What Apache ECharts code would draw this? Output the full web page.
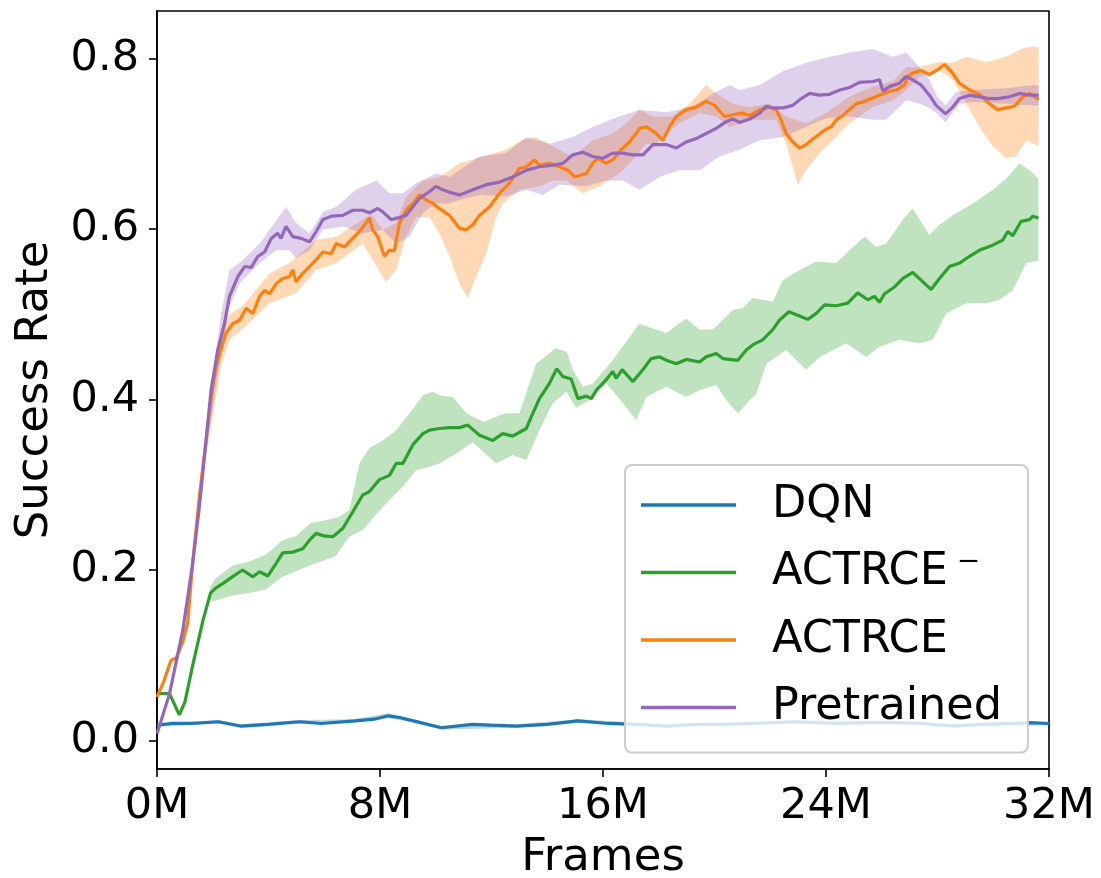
<!DOCTYPE html>
<html><head><meta charset="utf-8">
<script src="https://cdn.jsdelivr.net/npm/echarts@6/dist/echarts.min.js"></script>
<style>html,body{margin:0;padding:0;background:#fff}#c{width:1101px;height:878px}</style>
</head><body><div id="c"></div>
<script>
// ---------- data (x in millions of frames, y = success rate) ----------
const seriesNames = ['DQN', 'ACTRCE\u2009\u207B', 'ACTRCE', 'Pretrained'];
const seriesColors = ['#1f77b4', '#2ca02c', '#ff7f0e', '#9467bd'];
const xTickValues = [0, 8, 16, 24, 32];
const yTickValues = [0, 0.2, 0.4, 0.6, 0.8];

const dqnLine = [[0,0.018],[0.5,0.020],[1.2,0.020],[2.2,0.022],[3.0,0.017],[4.0,0.019],[5.1,0.022],[5.9,0.020],[7.1,0.023],[7.8,0.025],[8.3,0.029],[8.7,0.027],[9.2,0.023],[10.2,0.015],[11.3,0.019],[12.0,0.018],[12.9,0.017],[14.0,0.019],[15.1,0.023],[16.2,0.020],[17.2,0.019],[18.3,0.017],[19.3,0.019],[20.3,0.019],[21.5,0.020],[22.8,0.022],[24.4,0.020],[25.5,0.021],[26.5,0.021],[27.5,0.020],[28.6,0.017],[29.5,0.019],[30.6,0.020],[31.3,0.021],[32,0.020]];
const dqnUpper = [[0,0.020],[2.2,0.024],[3.0,0.019],[5.1,0.024],[7.1,0.025],[8.3,0.032],[9.2,0.025],[10.2,0.017],[12.9,0.019],[15.1,0.025],[18.3,0.019],[22.8,0.024],[26.5,0.023],[28.6,0.019],[32,0.022]];
const dqnLower = [[0,0.016],[2.2,0.020],[3.0,0.015],[5.1,0.020],[7.1,0.021],[8.3,0.026],[9.2,0.021],[10.2,0.013],[12.9,0.015],[15.1,0.021],[18.3,0.015],[22.8,0.020],[26.5,0.019],[28.6,0.015],[32,0.018]];

const greenLine = [[0,0.055],[0.45,0.055],[0.8,0.030],[1.0,0.045],[1.3,0.091],[1.65,0.141],[1.92,0.173],[2.12,0.179],[2.4,0.185],[2.7,0.192],[3.07,0.200],[3.44,0.192],[3.68,0.198],[3.98,0.193],[4.28,0.208],[4.51,0.220],[4.87,0.221],[5.23,0.225],[5.47,0.235],[5.71,0.243],[6.0,0.240],[6.31,0.239],[6.67,0.249],[7.02,0.268],[7.38,0.288],[7.62,0.292],[7.98,0.306],[8.34,0.311],[8.58,0.325],[8.82,0.325],[9.18,0.347],[9.54,0.360],[9.78,0.364],[10.13,0.366],[10.5,0.367],[10.85,0.367],[11.15,0.370],[11.57,0.358],[12.05,0.352],[12.4,0.360],[12.76,0.357],[13.25,0.366],[13.43,0.380],[13.72,0.401],[14.08,0.419],[14.34,0.436],[14.56,0.427],[14.86,0.424],[15.1,0.401],[15.4,0.404],[15.58,0.401],[15.76,0.411],[16.11,0.423],[16.35,0.433],[16.47,0.425],[16.69,0.435],[17.07,0.421],[17.43,0.435],[17.73,0.448],[18.03,0.450],[18.27,0.446],[18.63,0.442],[18.99,0.447],[19.46,0.444],[19.7,0.450],[20.06,0.454],[20.3,0.448],[20.84,0.446],[21.14,0.458],[21.37,0.464],[21.73,0.470],[22.09,0.482],[22.33,0.493],[22.67,0.503],[23.05,0.498],[23.35,0.494],[23.65,0.501],[23.95,0.511],[24.37,0.510],[24.78,0.513],[25.14,0.525],[25.5,0.517],[25.74,0.521],[25.92,0.514],[26.1,0.524],[26.46,0.532],[26.76,0.542],[27.11,0.549],[27.41,0.540],[27.77,0.529],[28.07,0.542],[28.43,0.556],[28.79,0.560],[29.15,0.568],[29.5,0.575],[29.98,0.581],[30.34,0.587],[30.52,0.597],[30.7,0.592],[31.0,0.609],[31.3,0.611],[31.42,0.615],[31.62,0.613]];
const greenUpper = [[1.9,0.18],[2.1,0.19],[2.7,0.205],[3.3,0.21],[3.9,0.218],[4.5,0.235],[5.0,0.24],[5.5,0.255],[6.0,0.258],[6.5,0.262],[6.9,0.27],[7.26,0.325],[7.62,0.343],[8.1,0.352],[8.58,0.364],[9.06,0.384],[9.54,0.405],[9.9,0.409],[10.13,0.405],[10.61,0.403],[11.1,0.384],[11.7,0.374],[12.5,0.384],[13.0,0.384],[13.6,0.442],[14.3,0.460],[14.7,0.456],[14.92,0.435],[15.28,0.415],[15.64,0.419],[16.35,0.446],[17.3,0.489],[18.27,0.478],[18.98,0.495],[19.46,0.482],[19.94,0.482],[20.66,0.505],[21.0,0.507],[21.37,0.519],[22.09,0.515],[22.45,0.540],[23.05,0.552],[23.65,0.562],[24.37,0.560],[24.84,0.575],[25.38,0.591],[25.8,0.579],[26.16,0.583],[26.76,0.611],[27.11,0.624],[27.71,0.593],[28.07,0.605],[28.55,0.616],[29.27,0.630],[29.98,0.646],[30.46,0.659],[30.94,0.677],[31.3,0.669],[31.62,0.659]];
const greenLower = [[1.9,0.165],[2.0,0.163],[2.7,0.17],[3.3,0.173],[3.9,0.177],[4.5,0.192],[5.1,0.2],[5.7,0.208],[6.4,0.216],[6.9,0.239],[7.38,0.247],[7.86,0.265],[8.34,0.282],[8.82,0.298],[9.3,0.317],[9.78,0.321],[10.13,0.325],[10.85,0.339],[11.33,0.350],[12.17,0.325],[12.76,0.335],[13.25,0.329],[13.72,0.364],[14.2,0.396],[14.68,0.409],[15.04,0.390],[15.5,0.399],[16.11,0.419],[16.71,0.396],[17.19,0.376],[17.55,0.403],[18.27,0.415],[18.98,0.403],[19.46,0.411],[20.06,0.417],[20.42,0.399],[20.84,0.384],[21.26,0.399],[21.5,0.407],[21.86,0.442],[22.57,0.458],[23.29,0.435],[23.77,0.450],[24.73,0.466],[25.44,0.450],[25.92,0.462],[26.64,0.470],[27.35,0.466],[27.83,0.470],[28.31,0.501],[29.03,0.513],[29.75,0.513],[30.22,0.517],[30.7,0.528],[31.18,0.560],[31.62,0.563]];

const orangeLine = [[0,0.051],[0.25,0.07],[0.5,0.094],[0.69,0.097],[0.93,0.116],[1.1,0.138],[1.28,0.208],[1.52,0.286],[1.76,0.352],[1.94,0.403],[2.12,0.438],[2.36,0.466],[2.48,0.478],[2.72,0.489],[2.96,0.493],[3.2,0.507],[3.44,0.501],[3.68,0.521],[3.86,0.528],[4.04,0.524],[4.28,0.536],[4.51,0.542],[4.75,0.544],[4.87,0.552],[4.99,0.538],[5.23,0.548],[5.47,0.556],[5.71,0.564],[5.95,0.573],[6.25,0.571],[6.43,0.583],[6.73,0.579],[7.02,0.589],[7.32,0.599],[7.62,0.613],[7.74,0.599],[7.92,0.591],[8.16,0.568],[8.34,0.575],[8.52,0.575],[8.7,0.607],[8.94,0.622],[9.18,0.630],[9.42,0.640],[9.66,0.634],[9.9,0.630],[10.13,0.624],[10.49,0.616],[10.85,0.601],[11.09,0.599],[11.33,0.605],[11.57,0.616],[11.93,0.626],[12.29,0.642],[12.65,0.654],[13.0,0.671],[13.25,0.673],[13.54,0.681],[13.72,0.675],[14.08,0.677],[14.44,0.673],[14.74,0.669],[14.98,0.661],[15.4,0.665],[15.63,0.677],[15.81,0.683],[16.11,0.677],[16.35,0.681],[16.65,0.693],[16.95,0.702],[17.19,0.712],[17.31,0.718],[17.55,0.720],[17.91,0.712],[18.15,0.704],[18.39,0.720],[18.63,0.732],[18.98,0.740],[19.34,0.743],[19.7,0.750],[20.0,0.745],[20.36,0.732],[20.66,0.734],[21.0,0.736],[21.26,0.733],[21.62,0.740],[21.97,0.743],[22.21,0.740],[22.39,0.728],[22.57,0.712],[22.81,0.702],[23.05,0.695],[23.29,0.699],[23.47,0.704],[23.71,0.710],[23.95,0.716],[24.19,0.720],[24.37,0.728],[24.6,0.733],[24.84,0.740],[25.08,0.747],[25.32,0.749],[25.62,0.753],[25.92,0.757],[26.22,0.761],[26.52,0.763],[26.82,0.769],[26.94,0.779],[27.11,0.783],[27.41,0.786],[27.71,0.781],[28.01,0.787],[28.25,0.793],[28.49,0.785],[28.79,0.771],[29.15,0.763],[29.5,0.758],[29.86,0.747],[30.16,0.740],[30.46,0.742],[30.76,0.744],[31.06,0.755],[31.3,0.759],[31.63,0.752]];
const orangeUpper = [[1.3,0.215],[1.5,0.295],[1.76,0.365],[2.0,0.42],[2.3,0.48],[2.6,0.50],[3.06,0.509],[4.04,0.548],[4.75,0.560],[5.71,0.587],[6.43,0.591],[7.38,0.611],[7.68,0.618],[8.1,0.599],[8.58,0.607],[8.94,0.638],[9.54,0.657],[10.13,0.661],[10.5,0.669],[10.85,0.677],[11.69,0.685],[12.5,0.693],[13.1,0.704],[13.6,0.708],[14.08,0.699],[14.92,0.685],[15.63,0.704],[16.35,0.712],[16.83,0.724],[17.31,0.740],[17.79,0.732],[18.5,0.732],[19.1,0.747],[19.7,0.769],[20.06,0.759],[20.66,0.747],[21.26,0.743],[21.97,0.747],[22.57,0.732],[23.29,0.724],[24.0,0.736],[24.84,0.755],[25.68,0.767],[26.4,0.773],[26.88,0.790],[27.35,0.790],[28.07,0.796],[28.55,0.795],[29.03,0.802],[29.75,0.796],[30.46,0.802],[31.06,0.812],[31.42,0.814],[31.63,0.813]];
const orangeLower = [[1.3,0.20],[1.5,0.27],[1.76,0.335],[2.0,0.38],[2.3,0.44],[2.6,0.47],[3.06,0.482],[4.04,0.513],[5.0,0.525],[5.71,0.552],[6.43,0.560],[7.38,0.583],[8.1,0.544],[8.22,0.538],[8.58,0.552],[8.94,0.591],[9.3,0.614],[9.78,0.614],[10.13,0.595],[10.49,0.568],[10.85,0.536],[11.15,0.519],[11.45,0.544],[11.81,0.571],[12.17,0.614],[12.4,0.630],[13.0,0.646],[13.72,0.650],[14.2,0.657],[14.68,0.657],[15.28,0.642],[15.87,0.650],[16.59,0.665],[17.07,0.681],[17.55,0.700],[17.91,0.700],[18.27,0.712],[18.74,0.724],[19.46,0.736],[20.06,0.732],[20.54,0.720],[21.26,0.727],[21.62,0.728],[22.21,0.728],[22.57,0.700],[22.99,0.652],[23.29,0.669],[23.77,0.689],[24.25,0.704],[24.84,0.724],[25.68,0.743],[26.4,0.751],[26.88,0.763],[27.35,0.779],[28.07,0.786],[28.55,0.775],[29.03,0.747],[29.5,0.720],[29.98,0.697],[30.46,0.683],[30.82,0.685],[31.18,0.704],[31.63,0.697]];

const purpleLine = [[0,0.008],[0.45,0.055],[0.93,0.130],[1.28,0.208],[1.52,0.274],[1.76,0.352],[1.94,0.411],[2.18,0.458],[2.42,0.489],[2.6,0.521],[2.9,0.544],[3.14,0.556],[3.38,0.555],[3.62,0.568],[3.86,0.573],[4.1,0.589],[4.33,0.595],[4.45,0.589],[4.63,0.603],[4.87,0.591],[5.17,0.589],[5.47,0.585],[5.71,0.597],[5.95,0.611],[6.25,0.615],[6.67,0.616],[7.02,0.622],[7.38,0.622],[7.62,0.619],[7.92,0.624],[8.1,0.620],[8.4,0.611],[8.64,0.613],[8.94,0.616],[9.18,0.626],[9.42,0.636],[9.78,0.644],[10.0,0.650],[10.25,0.646],[10.5,0.643],[10.85,0.640],[11.33,0.646],[11.81,0.652],[12.29,0.655],[12.76,0.661],[13.25,0.669],[13.72,0.673],[14.2,0.675],[14.56,0.677],[14.92,0.687],[15.28,0.690],[15.63,0.685],[16.0,0.683],[16.35,0.689],[16.71,0.689],[17.07,0.687],[17.43,0.687],[17.79,0.699],[18.27,0.699],[18.63,0.695],[18.98,0.702],[19.34,0.706],[19.7,0.712],[20.06,0.718],[20.42,0.726],[20.66,0.729],[20.9,0.725],[21.26,0.729],[21.62,0.736],[21.86,0.744],[22.09,0.742],[22.45,0.742],[22.81,0.745],[23.11,0.753],[23.41,0.759],[23.77,0.757],[24.13,0.758],[24.49,0.763],[24.84,0.766],[25.2,0.772],[25.68,0.773],[25.92,0.775],[26.04,0.762],[26.28,0.767],[26.63,0.771],[26.88,0.779],[27.11,0.775],[27.41,0.769],[27.71,0.757],[27.95,0.745],[28.29,0.735],[28.55,0.743],[28.79,0.753],[29.15,0.757],[29.5,0.755],[29.86,0.753],[30.16,0.753],[30.58,0.755],[30.94,0.759],[31.3,0.757],[31.63,0.757]];
const purpleUpper = [[1.3,0.215],[1.76,0.36],[2.0,0.43],[2.3,0.50],[2.6,0.552],[2.96,0.560],[3.68,0.583],[4.04,0.599],[4.63,0.626],[4.99,0.607],[5.47,0.595],[5.95,0.620],[6.43,0.626],[7.14,0.646],[7.86,0.657],[8.34,0.642],[8.82,0.642],[9.3,0.654],[10.01,0.665],[10.49,0.661],[10.85,0.669],[11.57,0.685],[12.52,0.689],[13.25,0.708],[14.08,0.700],[14.92,0.708],[15.63,0.720],[16.59,0.732],[17.31,0.740],[18.27,0.737],[19.22,0.743],[19.94,0.759],[20.54,0.769],[20.9,0.763],[21.62,0.769],[22.45,0.785],[23.29,0.795],[24.0,0.801],[24.84,0.807],[25.68,0.811],[26.4,0.802],[26.88,0.807],[27.35,0.790],[27.71,0.775],[28.0,0.755],[28.29,0.745],[28.67,0.761],[29.27,0.763],[30.46,0.765],[31.42,0.769],[31.63,0.768]];
const purpleLower = [[1.3,0.20],[1.76,0.34],[2.0,0.39],[2.3,0.455],[2.6,0.509],[2.96,0.536],[3.68,0.560],[4.27,0.575],[4.75,0.575],[4.99,0.566],[5.47,0.575],[5.95,0.599],[6.67,0.603],[7.38,0.595],[8.1,0.599],[8.58,0.583],[9.06,0.591],[9.54,0.619],[10.01,0.630],[10.49,0.630],[10.85,0.634],[11.57,0.640],[12.52,0.638],[13.25,0.646],[13.84,0.640],[14.44,0.652],[15.4,0.650],[16.11,0.657],[16.71,0.657],[17.31,0.646],[18.03,0.661],[18.74,0.669],[19.46,0.669],[20.18,0.685],[20.9,0.693],[21.62,0.704],[22.45,0.708],[23.29,0.720],[24.0,0.730],[24.84,0.732],[25.68,0.728],[26.16,0.728],[26.88,0.751],[27.35,0.747],[27.71,0.742],[28.0,0.735],[28.29,0.725],[28.79,0.747],[29.27,0.749],[30.46,0.747],[31.42,0.745],[31.63,0.745]];

const lines = [dqnLine, greenLine, orangeLine, purpleLine];
const uppers = [dqnUpper, greenUpper, orangeUpper, purpleUpper];
const lowers = [dqnLower, greenLower, orangeLower, purpleLower];

// ---------- chart ----------
const FONT = 'DejaVu Sans';
function hexA(hex, a) {
  const n = parseInt(hex.slice(1), 16);
  return 'rgba(' + (n >> 16) + ',' + ((n >> 8) & 255) + ',' + (n & 255) + ',' + a + ')';
}
const series = [];
seriesNames.forEach(function (name, i) {
  const up = uppers[i], lo = lowers[i];
  series.push({
    type: 'custom', name: name + ' band', silent: true, clip: true,
    data: [[up[0][0], up[0][1]]],
    renderItem: function (params, api) {
      const pts = up.map(function (p) { return api.coord(p); })
        .concat(lo.slice().reverse().map(function (p) { return api.coord(p); }));
      return { type: 'polygon', shape: { points: pts }, style: { fill: hexA(seriesColors[i], 0.3) } };
    }
  });
});
seriesNames.forEach(function (name, i) {
  series.push({
    type: 'line', name: name, data: lines[i], showSymbol: false, symbol: 'none',
    color: seriesColors[i], lineStyle: { width: 3.2, color: seriesColors[i] }, clip: true
  });
});

const chart = echarts.init(document.getElementById('c'), null, { renderer: 'canvas' });
chart.setOption({
  animation: false,
  backgroundColor: '#fff',
  textStyle: { fontFamily: FONT },
  grid: { left: 157, right: 52, top: 11, bottom: 109, outerBoundsMode: 'none', containLabel: false,
    show: true, borderColor: '#000', borderWidth: 1.6, backgroundColor: 'transparent' },
  xAxis: {
    type: 'value', min: 0, max: 32, interval: 8,
    name: 'Frames', nameLocation: 'middle', nameGap: 67,
    nameTextStyle: { fontSize: 45, color: '#000', fontFamily: FONT },
    axisLine: { show: true, onZero: false, lineStyle: { color: '#000', width: 1.6 } },
    axisTick: { show: true, inside: false, length: 8, lineStyle: { color: '#000', width: 1.6 }, customValues: xTickValues },
    axisLabel: { fontSize: 43, color: '#000', margin: 16, fontFamily: FONT, customValues: xTickValues,
      formatter: function (v) { return v + 'M'; } },
    splitLine: { show: false }
  },
  yAxis: {
    type: 'value', min: -0.0334, max: 0.8557,
    name: 'Success Rate', nameLocation: 'middle', nameGap: 99,
    nameTextStyle: { fontSize: 45, color: '#000', fontFamily: FONT },
    axisLine: { show: true, onZero: false, lineStyle: { color: '#000', width: 1.6 } },
    axisTick: { show: true, inside: false, length: 8, lineStyle: { color: '#000', width: 1.6 }, customValues: yTickValues },
    axisLabel: { fontSize: 43, color: '#000', margin: 18, fontFamily: FONT, customValues: yTickValues,
      formatter: function (v) { return v.toFixed(1); } },
    splitLine: { show: false }
  },
  legend: {
    orient: 'vertical', left: 625, top: 465,
    data: seriesNames.map(function (n) { return { name: n, icon: 'rect' }; }),
    itemWidth: 95, itemHeight: 3.5, itemGap: 17.5,
    padding: [15, 26, 20, 16],
    backgroundColor: 'rgba(255,255,255,0.8)',
    borderColor: '#cccccc', borderWidth: 2, borderRadius: 7,
    textStyle: { fontSize: 44.5, color: '#000', fontFamily: FONT, lineHeight: 50, padding: [0, 0, 0, 31] },
    selectedMode: false
  },
  series: series
});
</script>
</body></html>
